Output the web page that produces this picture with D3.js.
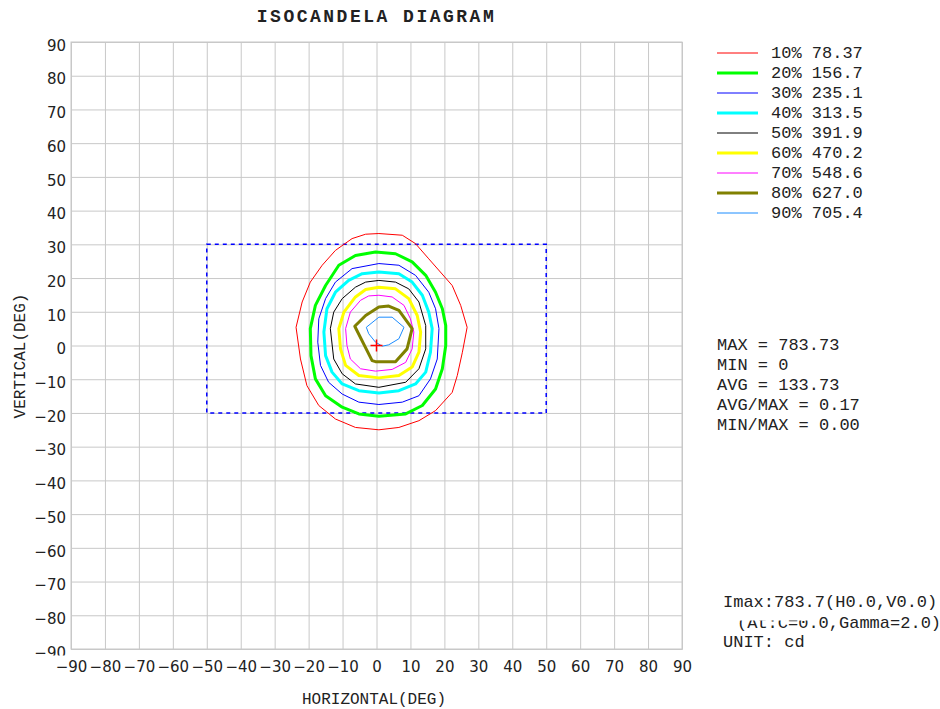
<!DOCTYPE html>
<html>
<head>
<meta charset="utf-8">
<script src="https://cdn.jsdelivr.net/npm/d3@7"></script>
<style>
  body { margin: 0; background: #fff; }
  svg { display: block; }
  .mono { font-family: "Liberation Mono", "Courier New", monospace; fill: #222; }
  .tick text { font-family: "DejaVu Sans", Verdana, sans-serif; font-size: 15px; fill: #222; }
  .tick line { stroke: #c8c8c8; }
  .domain { stroke: #c8c8c8; }
</style>
</head>
<body>
<script>
// Data
var tickValues = [-90, -80, -70, -60, -50, -40, -30, -20, -10, 0, 10, 20, 30, 40, 50, 60, 70, 80, 90];
var levelPercents = [10, 20, 30, 40, 50, 60, 70, 80, 90];
var levelValues = ["78.37", "156.7", "235.1", "313.5", "391.9", "470.2", "548.6", "627.0", "705.4"];
var statLines = ["MAX = 783.73", "MIN = 0", "AVG = 133.73", "AVG/MAX = 0.17", "MIN/MAX = 0.00"];
var infoLines = ["Imax:783.7(H0.0,V0.0)", "(At:C=0.0,Gamma=2.0)", "UNIT: cd"];
var boxCorners = [[-50, 30], [50, -20]];   // dashed measuring window (H, V)
var imaxPoint = [0, 0];

// contour outlines, [H, V] in degrees
var contour10 = [[0.7,33.2],[7.6,32.7],[11.5,30.2],[15.4,25.7],[22.3,17.8],[24.8,11.9],[26.7,5.4],[25.3,-2],[23.8,-8.9],[22.3,-13.9],[17.4,-19.3],[12.5,-22.3],[6.6,-24.3],[0.7,-25],[-6.2,-24.3],[-12.1,-21.8],[-17,-17.8],[-20.5,-11.9],[-22.4,-4],[-23.7,5.4],[-21.9,12.9],[-19.5,18.8],[-16,23.8],[-12.1,28.2],[-7.2,31.7],[-3.2,33]];
var contour20 = [[-0.3,27.7],[5.6,27.2],[10.5,24.8],[14.5,20.8],[17.4,15.8],[19.4,10.9],[20.4,5.9],[20.4,0],[19.4,-6.9],[17.4,-12.9],[13.5,-17.8],[8.6,-20.3],[0.7,-21],[-5.2,-20.3],[-10.1,-18.3],[-15,-14.9],[-18,-9.9],[-19.3,-3],[-19.5,5],[-18,11.9],[-15,17.8],[-11.1,23.8],[-6.2,26.7]];
var contour30 = [[0.7,24.3],[6.6,23.8],[11.5,20.8],[15.4,15.8],[17.4,10.9],[18.4,5],[17.9,-4],[15.9,-9.9],[12.5,-14.9],[7.6,-16.8],[0.7,-17.5],[-5.2,-16.8],[-10.1,-14.4],[-14.1,-10.9],[-16.5,-5.9],[-17.3,1],[-17,7.9],[-15,13.9],[-12.1,18.8],[-7.2,22.8]];
var contour40 = [[0.7,21.8],[6.6,21.3],[10.5,18.8],[13.5,14.9],[15.4,9.9],[16.4,5],[15.9,-2],[14.5,-7.9],[11.5,-11.4],[6.6,-13.4],[0.7,-14.1],[-5.2,-13.4],[-10.1,-11.4],[-13.1,-7.9],[-15,-3],[-15.5,4],[-14.6,10.9],[-12.1,15.8],[-8.2,19.3],[-4.2,21.3]];
var contour50 = [[0.7,19.3],[5.6,18.8],[9.5,16.8],[12.5,12.9],[14.5,5.9],[14.5,-1],[12.5,-6.9],[8.6,-10.9],[0.7,-12.4],[-6.2,-11.4],[-10.1,-8.4],[-12.6,-4],[-13.6,5],[-12.6,9.9],[-10.1,13.9],[-6.2,17.3],[-3.2,18.8]];
var contour60 = [[0.7,17.3],[5.6,16.8],[9.5,13.9],[12,8.9],[13,4],[12.5,-2],[10.5,-6.4],[6.6,-8.9],[0.7,-9.6],[-5.2,-8.9],[-9.1,-5.9],[-10.6,-1],[-11.1,5],[-9.6,9.9],[-6.2,14.4],[-3.2,16.6]];
var contour70 = [[0.7,14.9],[4.6,14.4],[8.1,11.9],[10,7.9],[11,4],[10.5,-1],[8.6,-5],[4.6,-7.1],[-0.3,-7.6],[-4.7,-6.9],[-7.7,-4],[-8.7,0],[-9.1,5],[-7.7,9.9],[-4.7,13.4],[-2.3,14.7]];
var contour80 = [[-6.4,5.7],[-3.2,8.9],[0.7,11.4],[3.6,11.7],[6.6,10.4],[10.5,5],[9,-1],[5.6,-4.8],[-0.3,-4.8],[-1.3,-4.5]];
var contour90 = [[-3,5.4],[0.7,8.4],[4.6,8.4],[8.1,5.4],[6.6,2],[3.6,0.2],[1.7,-0.2],[-0.3,1],[-2.3,3.5]];
var contours = [contour10, contour20, contour30, contour40, contour50, contour60, contour70, contour80, contour90];

// Styles for each level
var levelColors = ["#ff0000", "#00ff00", "#0000ff", "#00ffff", "#000000", "#ffff00", "#ff00ff", "#808000", "#1a8cff"];
var levelWidths = [1, 3, 1, 3, 1, 3, 1, 3, 1];

var svgWidth = 940, svgHeight = 709;
var plot = { left: 71, right: 682, top: 42, bottom: 649 };

var svg = d3.select("body").append("svg")
  .attr("width", svgWidth)
  .attr("height", svgHeight);

var xScale = d3.scaleLinear().domain([-90, 90]).range([plot.left, plot.right]);
var yScale = d3.scaleLinear().domain([-90, 90]).range([plot.bottom, plot.top]);

var fmt = function(d) { return d < 0 ? "\u2212" + Math.abs(d) : String(d); };

// Y axis with grid
var yAxis = svg.append("g")
  .attr("transform", `translate(${plot.left},0)`)
  .call(d3.axisLeft(yScale).tickValues(tickValues).tickSize(-(plot.right - plot.left)).tickPadding(5).tickFormat(fmt));
yAxis.selectAll(".tick text").attr("dy", "0.55em");

// white strip hides the lower part of the -90 label, like the original
svg.append("rect").attr("x", 30).attr("y", 655.5).attr("width", 680).attr("height", 25).attr("fill", "#fff");

// X axis with grid
svg.append("g")
  .attr("transform", `translate(0,${plot.bottom})`)
  .call(d3.axisBottom(xScale).tickValues(tickValues).tickSize(-(plot.bottom - plot.top)).tickPadding(12).tickFormat(fmt));

// frame
svg.append("rect")
  .attr("x", plot.left).attr("y", plot.top)
  .attr("width", plot.right - plot.left).attr("height", plot.bottom - plot.top)
  .attr("fill", "none").attr("stroke", "#c8c8c8");

// dashed window
svg.append("rect")
  .attr("x", xScale(boxCorners[0][0])).attr("y", yScale(boxCorners[0][1]))
  .attr("width", xScale(boxCorners[1][0]) - xScale(boxCorners[0][0]))
  .attr("height", yScale(boxCorners[1][1]) - yScale(boxCorners[0][1]))
  .attr("fill", "none").attr("stroke", "#0000ff").attr("stroke-width", 1.5)
  .attr("stroke-dasharray", "4,4");

// contours
var line = d3.line()
  .x(d => xScale(d[0]))
  .y(d => yScale(d[1]))
  .curve(d3.curveLinearClosed);

svg.append("g").selectAll("path")
  .data(contours)
  .join("path")
  .attr("d", line)
  .attr("fill", "none")
  .attr("stroke", (d, i) => levelColors[i])
  .attr("stroke-width", (d, i) => levelWidths[i])
  .attr("stroke-linejoin", "round");

// Imax cross
var cx = xScale(imaxPoint[0]), cy = yScale(imaxPoint[1]);
svg.append("path")
  .attr("d", `M${cx - 6},${cy}H${cx + 6}M${cx},${cy - 6}V${cy + 6}`)
  .attr("stroke", "#ff0000").attr("stroke-width", 1.5);

// title
svg.append("text")
  .attr("class", "mono")
  .attr("x", (plot.left + plot.right) / 2)
  .attr("y", 22)
  .attr("text-anchor", "middle")
  .attr("font-size", 18)
  .attr("font-weight", "bold")
  .attr("letter-spacing", 2.5)
  .text("ISOCANDELA DIAGRAM");

// axis titles
svg.append("text")
  .attr("class", "mono")
  .attr("x", 374).attr("y", 704)
  .attr("text-anchor", "middle")
  .attr("font-size", 16)
  .text("HORIZONTAL(DEG)");

svg.append("text")
  .attr("class", "mono")
  .attr("transform", "translate(25,356) rotate(-90)")
  .attr("text-anchor", "middle")
  .attr("font-size", 16)
  .text("VERTICAL(DEG)");

// legend
var legend = svg.append("g").selectAll("g")
  .data(levelPercents)
  .join("g")
  .attr("transform", (d, i) => `translate(717,${53 + i * 20})`);

legend.append("line")
  .attr("x1", 0).attr("x2", 41)
  .attr("stroke", (d, i) => levelColors[i])
  .attr("stroke-width", (d, i) => levelWidths[i]);

legend.append("text")
  .attr("class", "mono")
  .attr("x", 54).attr("y", 5)
  .attr("font-size", 17)
  .text((d, i) => `${d}% ${levelValues[i]}`);

// statistics
svg.append("g").selectAll("text")
  .data(statLines)
  .join("text")
  .attr("class", "mono")
  .attr("x", 717)
  .attr("y", (d, i) => 350 + i * 20)
  .attr("font-size", 17)
  .text(d => d);

// bottom-right info
svg.append("text").attr("class", "mono").attr("x", 737).attr("y", 628).attr("font-size", 17).text(infoLines[1]);
svg.append("rect").attr("x", 730).attr("y", 608).attr("width", 84).attr("height", 12.5).attr("fill", "#fff");
svg.append("text").attr("class", "mono").attr("x", 723).attr("y", 607).attr("font-size", 17).text(infoLines[0]);
svg.append("text").attr("class", "mono").attr("x", 723).attr("y", 647).attr("font-size", 17).text(infoLines[2]);
</script>
</body>
</html>
